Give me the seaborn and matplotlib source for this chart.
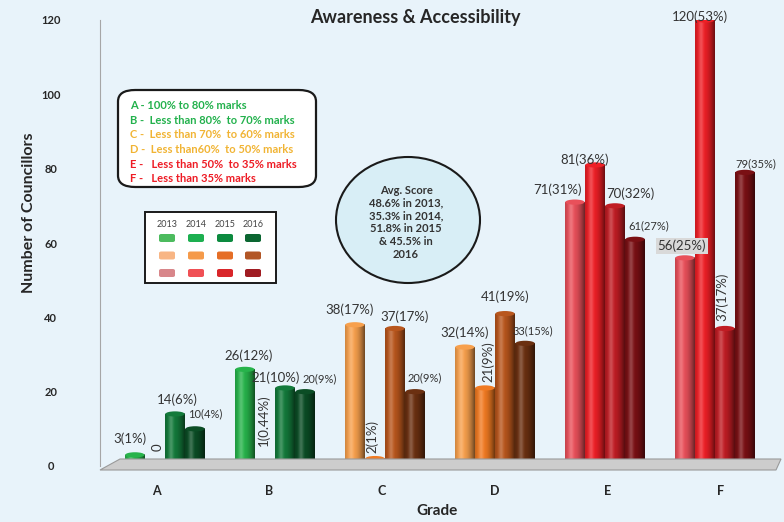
import numpy as np
import pandas as pd
import seaborn as sns
import matplotlib.pyplot as plt
from matplotlib.patches import Ellipse, FancyBboxPatch, Polygon, Rectangle
from matplotlib.transforms import ScaledTranslation

# ---- data ----
grades = ["A", "B", "C", "D", "E", "F"]
years = ["2013", "2014", "2015", "2016"]
counts_2013 = [3, 26, 38, 32, 71, 56]
counts_2014 = [0, 1, 2, 21, 81, 120]
counts_2015 = [14, 21, 37, 41, 70, 37]
counts_2016 = [10, 20, 20, 33, 61, 79]
labels_2013 = ["3(1%)", "26(12%)", "38(17%)", "32(14%)", "71(31%)", "56(25%)"]
labels_2014 = ["0", "1(0.44%)", "2(1%)", "21(9%)", "81(36%)", "120(53%)"]
labels_2015 = ["14(6%)", "21(10%)", "37(17%)", "41(19%)", "70(32%)", "37(17%)"]
labels_2016 = ["10(4%)", "20(9%)", "20(9%)", "33(15%)", "61(27%)", "79(35%)"]
grade_notes = ["A - 100% to 80% marks",
               "B -  Less than 80%  to 70% marks",
               "C -  Less than 70%  to 60% marks",
               "D -  Less than60%  to 50% marks",
               "E -   Less than 50%  to 35% marks",
               "F -   Less than 35% marks"]
avg_note = "Avg. Score\n48.6% in 2013,\n35.3% in 2014,\n51.8% in 2015\n& 45.5% in\n2016"

# ---- styling ----
W, H = 784, 522
BG = "#e8f3fa"
greens = ["#27b34b", "#1a9c48", "#137a3b", "#0b4d25"]
oranges = ["#f7a04d", "#f07a22", "#b8561d", "#6b3011"]
reds = ["#e9505a", "#ee1f26", "#c01d24", "#7a1014"]
grade_colors = [greens, greens, oranges, oranges, reds, reds]
note_colors = ["#22b14c", "#22b14c", "#f1b434", "#f1b434", "#ee1c25", "#ee1c25"]
swatch_rows = [["#4cbb5e", "#1daf50", "#0c8a3f", "#0b6631"],
               ["#f8b584", "#f59a4a", "#e56e26", "#b25626"],
               ["#d8868a", "#f05055", "#d9262a", "#a01c22"]]

# label offsets in pixels from the top of each bar (dx, dy), rotation, small font
offsets = {
    "2013": [(-5, 16), (4, 14), (-5, 15), (0, 14), (-17, 12), (-3, 12)],
    "2014": [(3, 19), (-1, 42), (-3, 22), (3, 26), (-10, 5), (-5, 3)],
    "2015": [(2, 14), (-9, 10), (10, 12), (0, 17), (15, 12), (-3, 32)],
    "2016": [(10, 15), (15, 13), (10, 14), (8, 13), (14, 13), (11, 9)],
}
rotated = {"2013": [0] * 6, "2014": [1, 1, 1, 1, 0, 0],
           "2015": [0, 0, 0, 0, 0, 1], "2016": [0] * 6}
small = {"2013": [0] * 6, "2014": [0] * 6, "2015": [0] * 6, "2016": [1] * 6}

sns.set_style("white")
plt.rcParams["font.family"] = ["Lato", "DejaVu Sans"]
TXT = "#262626"


def fx(x):
    return x / W


def fy(y):
    return 1 - y / H


df = pd.DataFrame({
    "Grade": grades * 4,
    "Year": [y for y in years for _ in grades],
    "Count": counts_2013 + counts_2014 + counts_2015 + counts_2016,
})
labels = {"2013": labels_2013, "2014": labels_2014,
          "2015": labels_2015, "2016": labels_2016}

fig = plt.figure(figsize=(W / 100, H / 100), dpi=100)
fig.patch.set_facecolor(BG)
ax = fig.add_axes([fx(100), 56 / H, 670 / W, 446 / H])
ax.set_facecolor(BG)

# floor of the 3D chart
floor = Polygon([(fx(100), fy(470)), (fx(120), fy(459)), (fx(781), fy(459)), (fx(776), fy(470))],
                closed=True, transform=fig.transFigure, facecolor="#cdcdcd",
                edgecolor="#9a9a9a", lw=0.8, zorder=0)
fig.patches.append(floor)

sns.barplot(data=df, x="Grade", y="Count", hue="Year", width=0.73, gap=0.04,
            legend=False, ax=ax, zorder=2)

t = np.linspace(0, 1, 40)
dark = np.zeros((1, 40, 4))
dark[0, :, 3] = 0.55 * ((t - 0.35) / 0.65) ** 2
light = np.ones((1, 40, 4))
light[0, :, 3] = 0.22 * np.exp(-((t - 0.3) / 0.12) ** 2)

for j, cont in enumerate(ax.containers):
    yr = years[j]
    for i, bar in enumerate(cont):
        col = grade_colors[i][j]
        bar.set_facecolor(col)
        bar.set_edgecolor("none")
        x0 = bar.get_x()
        w = bar.get_width()
        h = bar.get_height()
        if h > 0:
            ax.imshow(dark, extent=(x0, x0 + w, 0, h), aspect="auto", zorder=2.1,
                      interpolation="bilinear")
            ax.imshow(light, extent=(x0, x0 + w, 0, h), aspect="auto", zorder=2.2,
                      interpolation="bilinear")
        ax.add_patch(Ellipse((x0 + w / 2, h), w, 1.4, facecolor=col,
                             edgecolor="none", zorder=2.3))
        dx, dy = offsets[yr][i]
        kw = dict(textcoords="offset points", ha="center", va="center", color="#333333",
                  fontsize=8 if small[yr][i] else 9.5,
                  rotation=90 if rotated[yr][i] else 0, annotation_clip=False, zorder=5)
        if labels[yr][i] == "56(25%)":
            kw["bbox"] = dict(boxstyle="square,pad=0.15", facecolor="#d9d9d9", edgecolor="none")
        ax.annotate(labels[yr][i], (x0 + w / 2, h), xytext=(dx * 0.72, dy * 0.72), **kw)

ax.set_xlim(-0.591, 5.5)
ax.set_ylim(0, 120)
ax.set_yticks([0, 20, 40, 60, 80, 100, 120])
for s in ["top", "right", "bottom"]:
    ax.spines[s].set_visible(False)
ax.spines["left"].set_color("#a6a6a6")
ax.tick_params(axis="y", length=3, color="#a6a6a6", pad=26, labelsize=8, labelcolor=TXT)
ax.tick_params(axis="x", length=0, pad=14, labelsize=9, labelcolor=TXT)
for lab in ax.get_yticklabels():
    lab.set_fontweight("bold")
    lab.set_horizontalalignment("center")
    lab.set_transform(lab.get_transform() + ScaledTranslation(-0.09, 0, fig.dpi_scale_trans))
# category labels sit on the front edge of the floor, slightly offset from the bars
for i, lab in enumerate(ax.get_xticklabels()):
    lab.set_fontweight("bold")
    lab.set_transform(lab.get_transform() +
                      ScaledTranslation((-9 + 3 * i) / 100, 0, fig.dpi_scale_trans))

ax.set_ylabel("Number of Councillors", fontsize=11.5, fontweight="bold", color=TXT,
              va="center", ha="center")
ax.yaxis.set_label_coords(-0.106, 0.567)
ax.set_xlabel("Grade", fontsize=11, fontweight="bold", color=TXT, va="center", ha="center")
ax.xaxis.set_label_coords(0.503, -0.101)

fig.text(fx(415), fy(17), "Awareness & Accessibility", ha="center", va="center",
         fontsize=13, fontweight="bold", color=TXT)

# grade description box
fig.patches.append(FancyBboxPatch((fx(118), fy(187)), fx(316) - fx(118), fy(90) - fy(187),
                                  boxstyle="round,pad=0,rounding_size=0.022",
                                  transform=fig.transFigure, facecolor="white",
                                  edgecolor="#1a1a1a", lw=1.6, zorder=3))
for k, (note, c) in enumerate(zip(grade_notes, note_colors)):
    fig.text(fx(130), fy(106 + 14.5 * k), note, ha="left", va="center", fontsize=8,
             fontweight="bold", color=c, zorder=4)

# colour key box
fig.patches.append(Rectangle((fx(145), fy(283)), fx(276) - fx(145), fy(212) - fy(283),
                             transform=fig.transFigure, facecolor="white",
                             edgecolor="#1a1a1a", lw=1.4, zorder=3))
key_x = [167, 196, 225, 253]
for c, yr in enumerate(years):
    fig.text(fx(key_x[c]), fy(224), yr, ha="center", va="center", fontsize=6.5,
             color="#444444", zorder=4)
for r, row in enumerate(swatch_rows):
    for c, col in enumerate(row):
        fig.patches.append(FancyBboxPatch((fx(key_x[c] - 8), fy(238 + 17.5 * r + 4)),
                                          fx(16), 8 / H,
                                          boxstyle="round,pad=0,rounding_size=0.003",
                                          transform=fig.transFigure, facecolor=col,
                                          edgecolor="none", zorder=4))

# average score bubble
fig.patches.append(Ellipse((fx(408), fy(220)), 144 / W, 126 / H, transform=fig.transFigure,
                           facecolor="#d8eef6", edgecolor="#1a1a1a", lw=1.5, zorder=3))
fig.text(fx(406), fy(222), avg_note, ha="center", va="center", fontsize=8,
         fontweight="bold", color="#333333", linespacing=1.2, zorder=4)

fig.savefig("out.png", dpi=100, facecolor=BG)
